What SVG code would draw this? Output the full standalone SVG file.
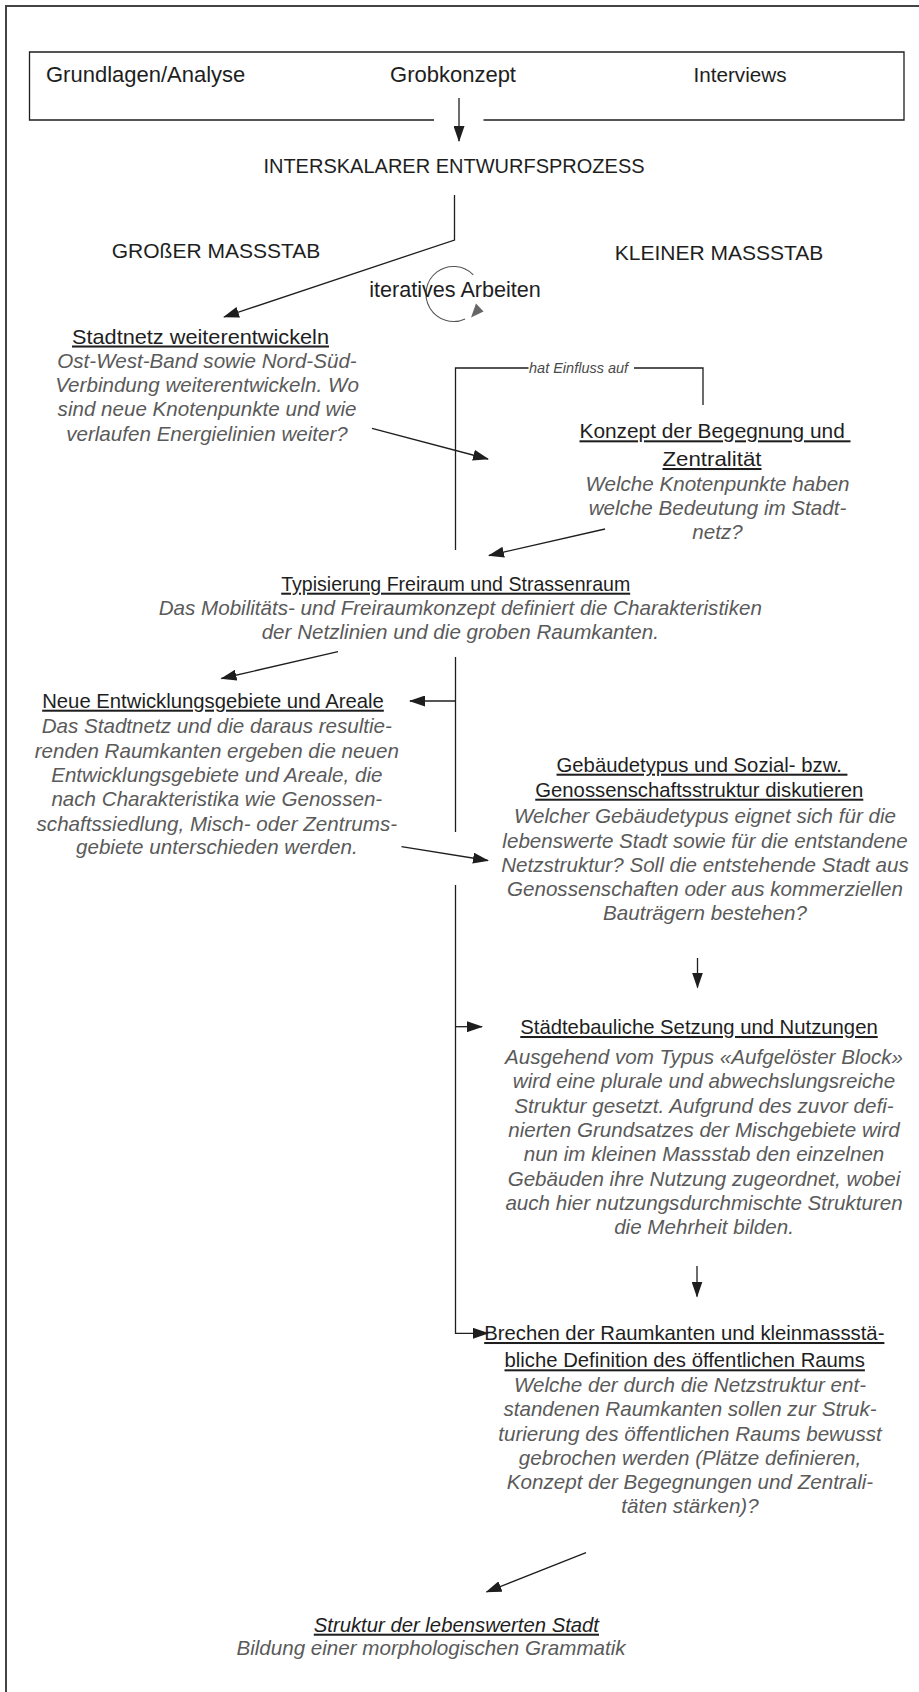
<svg xmlns="http://www.w3.org/2000/svg" width="919" height="1692" viewBox="0 0 919 1692">
<style>
.frame{fill:none;stroke:#444;stroke-width:2}
.ln{fill:none;stroke:#1e1e1e;stroke-width:1.3}
.t{font-family:"Liberation Sans",Arial,sans-serif;font-size:21px;fill:#1e1e1e}
.m{text-anchor:middle}
.h{font-family:"Liberation Sans",Arial,sans-serif;font-size:20.3px;fill:#1e1e1e;text-anchor:middle;text-decoration:underline;white-space:pre}
.b{font-family:"Liberation Sans",Arial,sans-serif;font-style:italic;font-size:20.6px;fill:#5a5a5a;text-anchor:middle}
.s{font-family:"Liberation Sans",Arial,sans-serif;font-style:italic;font-size:14.5px;fill:#4a4a4a}
</style>
<defs>
<marker id="ah" markerUnits="userSpaceOnUse" viewBox="0 0 16 11" markerWidth="16" markerHeight="11" refX="15" refY="5.5" orient="auto">
<path d="M0,0 L16,5.5 L0,11 z" fill="#1e1e1e"/>
</marker>
</defs>
<rect width="919" height="1692" fill="#ffffff"/>
<rect class="frame" x="6" y="6" width="940" height="1720"/>

<g id="start">
<path class="ln" d="M434,120 H29.5 V52 H904 V120 H483.5"/>
<text class="t" x="46" y="82" style="font-size:22px">Grundlagen/Analyse</text>
<text class="t m" x="453" y="82" style="font-size:22px">Grobkonzept</text>
<text class="t m" x="740" y="82" style="font-size:20.7px">Interviews</text>
</g>

<g id="prozess">
<text class="t m" x="454" y="173" style="font-size:20px">INTERSKALARER ENTWURFSPROZESS</text>
</g>

<g id="grosser">
<text class="t m" x="216" y="258">GROßER MASSSTAB</text>
</g>
<g id="kleiner">
<text class="t m" x="719" y="260">KLEINER MASSSTAB</text>
</g>

<g id="iterativ">
<path d="M473.3,274.9 A27.5,27.5 0 1 0 465.1,318.9" fill="none" stroke="#555" stroke-width="1.1"/>
<polygon points="476,303.5 483.5,311.5 471,317.5" fill="#666"/>
<text class="t m" x="455" y="297" style="font-size:21.6px">iteratives Arbeiten</text>
</g>

<g id="stadtnetz">
<text class="h" x="200.5" y="343.5" textLength="257" lengthAdjust="spacingAndGlyphs">Stadtnetz weiterentwickeln</text>
<text class="b" x="207" y="367.5">Ost-West-Band sowie Nord-Süd-</text>
<text class="b" x="207" y="392">Verbindung weiterentwickeln. Wo</text>
<text class="b" x="207" y="416">sind neue Knotenpunkte und wie</text>
<text class="b" x="207" y="440.5">verlaufen Energielinien weiter?</text>
</g>

<g id="konzept">
<text class="h" x="715" y="438.3" textLength="271" lengthAdjust="spacingAndGlyphs">Konzept der Begegnung und </text>
<text class="h" x="712" y="466" textLength="99" lengthAdjust="spacingAndGlyphs">Zentralität</text>
<text class="b" x="717.5" y="490.5">Welche Knotenpunkte haben</text>
<text class="b" x="717.5" y="514.5">welche Bedeutung im Stadt-</text>
<text class="b" x="717.5" y="538.5">netz?</text>
</g>

<g id="typisierung">
<text class="h" x="455.7" y="590.7" textLength="349" lengthAdjust="spacingAndGlyphs">Typisierung Freiraum und Strassenraum</text>
<text class="b" x="460.3" y="615">Das Mobilitäts- und Freiraumkonzept definiert die Charakteristiken</text>
<text class="b" x="460.3" y="638.5">der Netzlinien und die groben Raumkanten.</text>
</g>

<g id="neue">
<text class="h" x="213" y="707.7">Neue Entwicklungsgebiete und Areale</text>
<text class="b" x="216.8" y="733.3">Das Stadtnetz und die daraus resultie-</text>
<text class="b" x="216.8" y="757.6">renden Raumkanten ergeben die neuen</text>
<text class="b" x="216.8" y="781.9">Entwicklungsgebiete und Areale, die</text>
<text class="b" x="216.8" y="806.2">nach Charakteristika wie Genossen-</text>
<text class="b" x="216.8" y="830.5">schaftssiedlung, Misch- oder Zentrums-</text>
<text class="b" x="216.8" y="854">gebiete unterschieden werden.</text>
</g>

<g id="gebaeude">
<text class="h" x="702" y="771.7">Gebäudetypus und Sozial- bzw. </text>
<text class="h" x="699.3" y="796.7">Genossenschaftsstruktur diskutieren</text>
<text class="b" x="705" y="823.3">Welcher Gebäudetypus eignet sich für die</text>
<text class="b" x="705" y="847.5">lebenswerte Stadt sowie für die entstandene</text>
<text class="b" x="705" y="871.7">Netzstruktur? Soll die entstehende Stadt aus</text>
<text class="b" x="705" y="895.5">Genossenschaften oder aus kommerziellen</text>
<text class="b" x="705" y="919.5">Bauträgern bestehen?</text>
</g>

<g id="setzung">
<text class="h" x="699" y="1034">Städtebauliche Setzung und Nutzungen</text>
<text class="b" x="704" y="1064">Ausgehend vom Typus «Aufgelöster Block»</text>
<text class="b" x="704" y="1088.3">wird eine plurale und abwechslungsreiche</text>
<text class="b" x="704" y="1112.6">Struktur gesetzt. Aufgrund des zuvor defi-</text>
<text class="b" x="704" y="1136.9">nierten Grundsatzes der Mischgebiete wird</text>
<text class="b" x="704" y="1161.2">nun im kleinen Massstab den einzelnen</text>
<text class="b" x="704" y="1185.5">Gebäuden ihre Nutzung zugeordnet, wobei</text>
<text class="b" x="704" y="1209.5">auch hier nutzungsdurchmischte Strukturen</text>
<text class="b" x="704" y="1233.5">die Mehrheit bilden.</text>
</g>

<g id="brechen">
<text class="h" x="684.3" y="1340">Brechen der Raumkanten und kleinmassstä-</text>
<text class="h" x="684.7" y="1367.3">bliche Definition des öffentlichen Raums</text>
<text class="b" x="690" y="1391.7">Welche der durch die Netzstruktur ent-</text>
<text class="b" x="690" y="1416.2">standenen Raumkanten sollen zur Struk-</text>
<text class="b" x="690" y="1440.6">turierung des öffentlichen Raums bewusst</text>
<text class="b" x="690" y="1465">gebrochen werden (Plätze definieren,</text>
<text class="b" x="690" y="1489">Konzept der Begegnungen und Zentrali-</text>
<text class="b" x="690" y="1513.3">täten stärken)?</text>
</g>

<g id="struktur">
<text class="h" x="456.4" y="1631.7" style="font-style:italic">Struktur der lebenswerten Stadt</text>
<text class="b" x="431" y="1655">Bildung einer morphologischen Grammatik</text>
</g>

<g id="connectors">
<line class="ln" x1="459" y1="98" x2="459" y2="141" marker-end="url(#ah)"/>
<polyline class="ln" points="454.5,195 454.5,240 224,317" marker-end="url(#ah)"/>
<line class="ln" x1="372" y1="428.3" x2="488" y2="459" marker-end="url(#ah)"/>
<polyline class="ln" points="455.5,550 455.5,368 528.5,368"/>
<polyline class="ln" points="634,368 703,368 703,405"/>
<text class="s" x="529" y="372.5">hat Einfluss auf</text>
<line class="ln" x1="605" y1="529" x2="489" y2="555.5" marker-end="url(#ah)"/>
<line class="ln" x1="338" y1="651.7" x2="221.5" y2="678.5" marker-end="url(#ah)"/>
<line class="ln" x1="455.5" y1="657" x2="455.5" y2="832"/>
<line class="ln" x1="455.5" y1="701" x2="410" y2="701" marker-end="url(#ah)"/>
<line class="ln" x1="401.5" y1="846.7" x2="488" y2="860.5" marker-end="url(#ah)"/>
<polyline class="ln" points="455.5,885 455.5,1333.3 488,1333.3" marker-end="url(#ah)"/>
<line class="ln" x1="455.5" y1="1026.7" x2="482" y2="1026.7" marker-end="url(#ah)"/>
<line class="ln" x1="697.5" y1="958" x2="697.5" y2="987.5" marker-end="url(#ah)"/>
<line class="ln" x1="697" y1="1266" x2="697" y2="1296.5" marker-end="url(#ah)"/>
<line class="ln" x1="586" y1="1552.7" x2="486.5" y2="1592" marker-end="url(#ah)"/>
</g>
</svg>
